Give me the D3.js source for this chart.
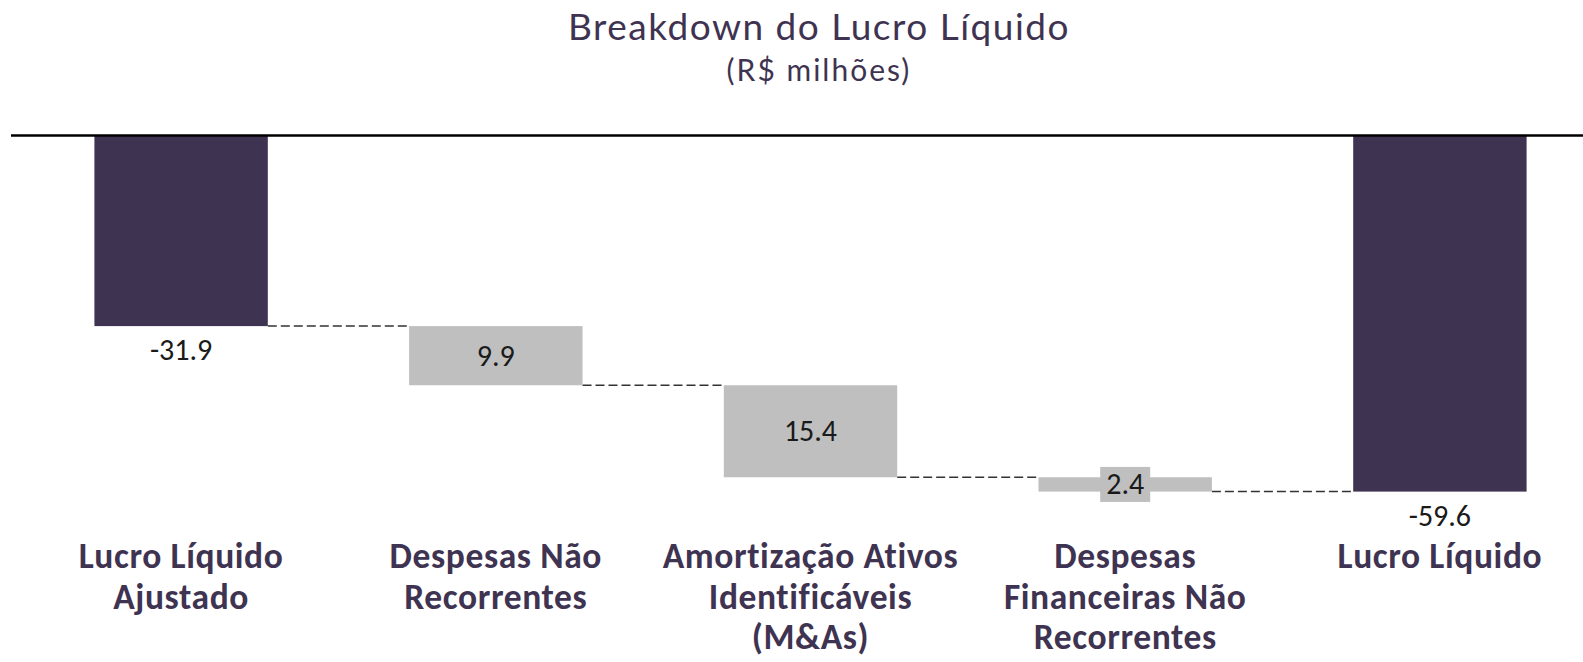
<!DOCTYPE html>
<html>
<head>
<meta charset="utf-8">
<script src="https://cdn.jsdelivr.net/npm/d3@7"></script>
<style>
  html, body { margin: 0; padding: 0; background: #ffffff; }
  svg { display: block; }
</style>
</head>
<body>
<svg id="chart" width="1583" height="662"></svg>
<script>
// ---- data ----
const categories = [
  "Lucro Líquido Ajustado",
  "Despesas Não Recorrentes",
  "Amortização Ativos Identificáveis (M&As)",
  "Despesas Financeiras Não Recorrentes",
  "Lucro Líquido"
];
const categoryLines = [
  ["Lucro Líquido", "Ajustado"],
  ["Despesas Não", "Recorrentes"],
  ["Amortização Ativos", "Identificáveis", "(M&As)"],
  ["Despesas", "Financeiras Não", "Recorrentes"],
  ["Lucro Líquido"]
];
const values = [-31.9, -9.9, -15.4, -2.4, -59.6];
const kinds = ["total", "delta", "delta", "delta", "total"];
const titleText = "Breakdown do Lucro Líquido";
const subtitleText = "(R$ milhões)";

// ---- build waterfall ----
let running = 0;
const bars = categories.map((c, i) => {
  let start, end;
  if (kinds[i] === "total") { start = 0; end = values[i]; running = values[i]; }
  else { start = running; end = running + values[i]; running = end; }
  return { cat: c, lines: categoryLines[i], value: values[i], kind: kinds[i], start, end };
});

const svg = d3.select("#chart");
const dark = "#3F3352";
const grey = "#BFBFBF";

const x = d3.scaleBand().domain(categories).range([0, 1621]).paddingInner(0.449).paddingOuter(0.3);
const y = d3.scaleLinear().domain([0, -60]).range([135.5, 494]);

// title
svg.append("text").attr("x", 819).attr("y", 40).attr("text-anchor", "middle")
  .attr("font-family", "Lato, 'Noto Sans', sans-serif").attr("font-size", 37)
  .attr("letter-spacing", 1.5).attr("fill", dark).text(titleText);
svg.append("text").attr("x", 819).attr("y", 81).attr("text-anchor", "middle")
  .attr("font-family", "Lato, 'Noto Sans', sans-serif").attr("font-size", 30)
  .attr("letter-spacing", 2).attr("fill", dark).text(subtitleText);

// connectors
const conn = d3.pairs(bars);
svg.append("g").selectAll("line").data(conn).join("line")
  .attr("x1", d => x(d[0].cat) + x.bandwidth())
  .attr("x2", d => x(d[1].cat))
  .attr("y1", d => y(d[0].end))
  .attr("y2", d => y(d[0].end))
  .attr("stroke", "#333333").attr("stroke-width", 1.5)
  .attr("stroke-dasharray", "9,4");

// bars
svg.append("g").selectAll("rect").data(bars).join("rect")
  .attr("x", d => x(d.cat))
  .attr("width", x.bandwidth())
  .attr("y", d => Math.min(y(d.start), y(d.end)))
  .attr("height", d => Math.abs(y(d.end) - y(d.start)))
  .attr("fill", d => d.kind === "total" ? dark : grey);

// axis line (zero)
svg.append("line").attr("x1", 11).attr("x2", 1583).attr("y1", y(0)).attr("y2", y(0))
  .attr("stroke", "#000").attr("stroke-width", 2.6);

// value labels
const fmt = v => d3.format(".1f")(v).replace("\u2212", "-");
const labelFont = "Carlito, Calibri, 'Liberation Sans', Arial, sans-serif";
bars.forEach(d => {
  const cx = x(d.cat) + x.bandwidth() / 2;
  if (d.kind === "total") {
    svg.append("text").attr("x", cx).attr("y", y(d.end) + 34)
      .attr("text-anchor", "middle").attr("font-family", labelFont)
      .attr("font-size", 30).attr("fill", "#1a1a1a").text(fmt(d.value));
  } else {
    const cy = (y(d.start) + y(d.end)) / 2;
    const t = svg.append("text").attr("x", cx).attr("y", cy)
      .attr("dy", "0.33em").attr("text-anchor", "middle").attr("font-family", labelFont)
      .attr("font-size", 30).attr("fill", "#1a1a1a").text(fmt(Math.abs(d.value)));
    const h = Math.abs(y(d.end) - y(d.start));
    if (h < 30) {
      const bb = t.node().getBBox();
      svg.insert("rect", "text:last-of-type")
        .attr("x", bb.x - 6).attr("width", bb.width + 12)
        .attr("y", cy - 17.5).attr("height", 35).attr("fill", grey);
      t.raise();
    }
  }
});

// category labels
const catG = svg.append("g");
bars.forEach(d => {
  const cx = x(d.cat) + x.bandwidth() / 2;
  const t = catG.append("text").attr("x", cx).attr("y", 568)
    .attr("text-anchor", "middle").attr("font-family", "Carlito, Calibri, 'Liberation Sans', Arial, sans-serif")
    .attr("font-weight", "bold").attr("font-size", 35.5).attr("letter-spacing", 0.6).attr("fill", dark);
  d.lines.forEach((ln, j) => {
    t.append("tspan").attr("x", cx).attr("dy", j === 0 ? 0 : 40.5).text(ln);
  });
});
</script>
</body>
</html>
